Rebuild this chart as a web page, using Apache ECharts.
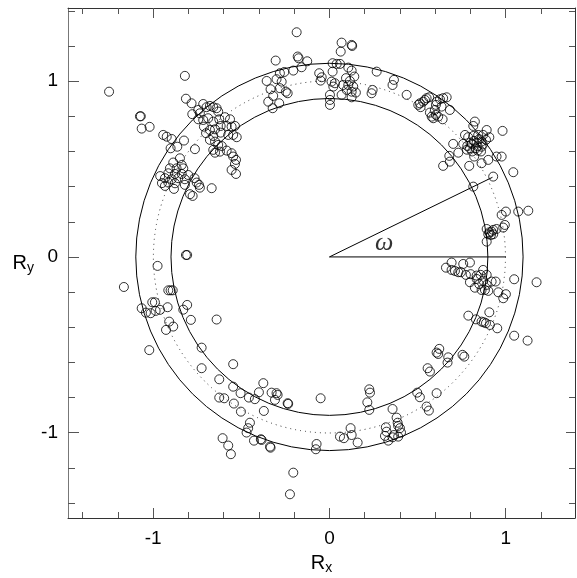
<!DOCTYPE html>
<html>
<head>
<meta charset="utf-8">
<script src="https://cdn.jsdelivr.net/npm/echarts@6/dist/echarts.min.js"></script>
<style>
  html, body { margin: 0; padding: 0; background: #fff; }
  #chart { width: 577px; height: 578px; }
</style>
</head>
<body>
<div id="chart"></div>
<script>
// axis ticks
const majorTicks = [-1, 0, 1]
const minorTicks = [-1.4, -1.2, -0.8, -0.6, -0.4, -0.2, 0.2, 0.4, 0.6, 0.8, 1.2, 1.4]
const xRange = [-1.483, 1.393]
const yRange = [-1.485, 1.416]

// reference rings, the two guide lines and the omega label
const ringRadii = [0.9, 1.0, 1.1]
const omegaLine = [[0, 0], [0.925, 0.453]]
const zeroLine = [[0, 0], [1.0, 0]]
const omegaLabel = [0.31, 0.08]

// measured points (Rx, Ry), grouped by region
const pointsNW = [
  [-1.25, 0.94], [-1.075, 0.80], [-1.07, 0.80], [-1.065, 0.73], [-1.02, 0.74], [-0.82, 1.03],
  [-0.814, 0.90], [-0.782, 0.874], [-0.778, 0.812], [-0.943, 0.694], [-0.923, 0.684], [-0.895, 0.671],
  [-0.825, 0.662], [-0.901, 0.618], [-0.863, 0.627], [-0.763, 0.613],
  [-0.744, 0.836], [-0.735, 0.817], [-0.716, 0.870], [-0.697, 0.852], [-0.678, 0.859], [-0.659, 0.852],
  [-0.640, 0.846], [-0.631, 0.827], [-0.744, 0.783], [-0.716, 0.779], [-0.688, 0.789], [-0.659, 0.770],
  [-0.625, 0.783], [-0.593, 0.795], [-0.564, 0.783], [-0.712, 0.741], [-0.678, 0.722], [-0.649, 0.726],
  [-0.617, 0.745], [-0.583, 0.745], [-0.555, 0.741], [-0.536, 0.745], [-0.700, 0.704], [-0.659, 0.688],
  [-0.617, 0.707], [-0.574, 0.694], [-0.546, 0.694], [-0.526, 0.681], [-0.678, 0.666], [-0.649, 0.656],
  [-0.631, 0.637], [-0.611, 0.631], [-0.659, 0.609], [-0.649, 0.593], [-0.621, 0.599], [-0.583, 0.605],
  [-0.555, 0.590], [-0.546, 0.571], [-0.530, 0.552], [-0.536, 0.529], [-0.555, 0.495], [-0.530, 0.472]
]
const pointsW = [
  [-0.848, 0.561], [-0.886, 0.537], [-0.838, 0.523], [-0.905, 0.504], [-0.867, 0.504], [-0.829, 0.504],
  [-0.914, 0.476], [-0.876, 0.472], [-0.838, 0.472], [-0.801, 0.466], [-0.933, 0.448], [-0.895, 0.442],
  [-0.858, 0.448], [-0.820, 0.442], [-0.914, 0.423], [-0.876, 0.419], [-0.753, 0.423], [-0.740, 0.410],
  [-0.765, 0.448], [-0.791, 0.357], [-0.776, 0.347], [-0.933, 0.404], [-0.882, 0.387], [-0.820, 0.410],
  [-0.735, 0.394], [-0.668, 0.391], [-0.96, 0.46], [-0.95, 0.42]
]
const pointsN = [
  [-0.186, 1.278], [-0.18, 1.14], [-0.175, 1.13], [-0.305, 1.117], [-0.126, 1.113], [-0.158, 1.079],
  [-0.205, 1.060], [-0.256, 1.052], [-0.281, 1.045], [-0.058, 1.045], [-0.044, 1.022], [-0.05, 1.003],
  [-0.30, 1.011], [-0.271, 0.997], [-0.356, 1.001], [-0.334, 0.954], [-0.281, 0.960], [-0.247, 0.940],
  [-0.237, 0.931], [-0.319, 0.916], [-0.347, 0.883], [-0.285, 0.874], [-0.322, 0.846],
  [0.069, 1.219], [0.126, 1.206], [0.129, 1.200], [0.064, 1.168], [0.018, 1.102], [0.041, 1.098],
  [0.060, 1.098], [0.107, 1.077], [0.126, 1.060], [0.018, 1.054], [0.012, 0.997], [0.031, 0.988],
  [0.022, 0.969], [0.094, 1.017], [0.116, 1.001], [0.141, 1.026], [0.078, 0.978], [0.107, 0.978],
  [0.135, 0.969], [0.098, 0.950], [0.126, 0.940], [0.150, 0.935], [0.069, 0.922], [0.126, 0.908],
  [0.003, 0.922], [0.003, 0.893], [0.003, 0.865], [0.268, 1.054], [0.366, 1.007], [0.358, 0.978],
  [0.245, 0.950], [0.239, 0.931], [0.438, 0.922]
]
const pointsNE = [
  [0.504, 0.865], [0.517, 0.852], [0.532, 0.883], [0.551, 0.903], [0.566, 0.908], [0.542, 0.893],
  [0.513, 0.874], [0.608, 0.883], [0.627, 0.897], [0.645, 0.903], [0.665, 0.908], [0.604, 0.865],
  [0.636, 0.855], [0.598, 0.836], [0.570, 0.821], [0.580, 0.798], [0.604, 0.808], [0.589, 0.789],
  [0.617, 0.798], [0.683, 0.836], [0.642, 0.783],
  [0.825, 0.770], [0.816, 0.745], [0.769, 0.694], [0.787, 0.681], [0.816, 0.688], [0.844, 0.694],
  [0.872, 0.694], [0.892, 0.722], [0.907, 0.681], [0.759, 0.643], [0.782, 0.631], [0.807, 0.643],
  [0.835, 0.650], [0.863, 0.656], [0.888, 0.666], [0.797, 0.618], [0.831, 0.618], [0.863, 0.627],
  [0.841, 0.605], [0.702, 0.643], [0.731, 0.593], [0.680, 0.575], [0.683, 0.542], [0.645, 0.518],
  [0.793, 0.518], [0.863, 0.533], [0.901, 0.552], [0.948, 0.571], [0.977, 0.571], [0.821, 0.571],
  [0.982, 0.717], [1.043, 0.482], [0.929, 0.457],
  [0.85, 0.67], [0.82, 0.66], [0.80, 0.65], [0.87, 0.64], [0.84, 0.63], [0.81, 0.60], [0.78, 0.61], [0.86, 0.60]
]
const pointsE = [
  [0.816, 0.400], [0.977, 0.239], [1.001, 0.258], [1.071, 0.258], [1.128, 0.263], [0.995, 0.182],
  [0.986, 0.167], [0.892, 0.159], [0.907, 0.140], [0.920, 0.144], [0.929, 0.154], [0.948, 0.159],
  [0.916, 0.125], [0.901, 0.129], [0.929, 0.129], [0.892, 0.087],
  [0.693, -0.032], [0.759, -0.040], [0.797, -0.032], [0.661, -0.061], [0.693, -0.074], [0.712, -0.080],
  [0.731, -0.087], [0.746, -0.087], [0.774, -0.102], [0.801, -0.098], [0.835, -0.106], [0.858, -0.102],
  [0.872, -0.074], [0.892, -0.102], [0.797, -0.144], [0.835, -0.125], [0.872, -0.135], [0.920, -0.140],
  [0.943, -0.140], [0.825, -0.175], [0.863, -0.188], [0.882, -0.188], [0.901, -0.193], [0.850, -0.155],
  [0.892, -0.159], [1.048, -0.127], [1.175, -0.144], [0.958, -0.201], [0.986, -0.235], [1.001, -0.212],
  [0.907, -0.315], [0.788, -0.334], [0.831, -0.355], [0.863, -0.368], [0.876, -0.372], [0.888, -0.377],
  [0.910, -0.387], [0.952, -0.406], [1.048, -0.448], [1.124, -0.476], [0.623, -0.523]
]
const pointsSE = [
  [0.608, -0.544], [0.617, -0.552], [0.674, -0.571], [0.670, -0.601], [0.755, -0.557], [0.765, -0.567],
  [0.557, -0.633], [0.570, -0.652], [0.226, -0.753], [0.230, -0.772], [0.215, -0.827], [0.226, -0.870],
  [0.498, -0.772], [0.513, -0.798], [0.608, -0.775], [0.358, -0.865], [0.551, -0.851], [0.564, -0.874],
  [0.381, -0.914], [0.387, -0.943], [0.390, -0.961], [0.400, -0.974], [0.406, -0.999], [0.390, -1.022],
  [0.320, -0.969], [0.324, -0.994], [0.315, -1.018], [0.334, -1.045], [0.358, -1.026], [0.366, -1.013],
  [0.120, -0.974], [0.126, -1.013], [0.082, -1.031], [0.060, -1.022], [0.160, -1.056]
]
const pointsSW = [
  [-0.814, 0.011], [-0.807, 0.011], [-0.975, -0.051], [-1.166, -0.171], [-0.914, -0.190], [-0.901, -0.190],
  [-0.889, -0.190], [-1.005, -0.258], [-0.990, -0.258], [-1.065, -0.292], [-1.041, -0.317], [-1.014, -0.320],
  [-0.986, -0.307], [-0.961, -0.301], [-0.918, -0.286], [-0.807, -0.273], [-0.829, -0.300], [-0.909, -0.368],
  [-0.886, -0.396], [-0.927, -0.415], [-0.786, -0.358], [-0.640, -0.356], [-1.022, -0.530], [-0.725, -0.516],
  [-0.725, -0.633], [-0.546, -0.610], [-0.625, -0.696], [-0.546, -0.738], [-0.625, -0.800], [-0.597, -0.804],
  [-0.504, -0.775], [-0.457, -0.800], [-0.423, -0.809], [-0.400, -0.770], [-0.375, -0.718], [-0.542, -0.834],
  [-0.502, -0.880], [-0.372, -0.876], [-0.328, -0.772], [-0.300, -0.775], [-0.294, -0.785], [-0.309, -0.813],
  [-0.237, -0.832], [-0.234, -0.836], [-0.050, -0.804], [-0.451, -0.943], [-0.461, -0.974], [-0.470, -0.999],
  [-0.428, -1.045], [-0.389, -1.037], [-0.385, -1.041], [-0.337, -1.079], [-0.334, -1.085], [-0.606, -1.031],
  [-0.574, -1.073], [-0.559, -1.122], [-0.205, -1.227], [-0.224, -1.350], [-0.073, -1.064], [-0.077, -1.094]
]

const allPoints = [].concat(pointsNW, pointsW, pointsN, pointsNE, pointsE, pointsSE, pointsSW)

const font = 'Liberation Sans'

// one axis per tick set, so major and minor ticks can have different lengths
function makeAxis(dim, position, ticks, len, opts) {
  const range = dim === 'x' ? xRange : yRange
  const ax = {
    type: 'value',
    position: position,
    min: range[0],
    max: range[1],
    splitLine: { show: false },
    axisLine: { show: !!opts.line, onZero: false, lineStyle: { color: opts.lineColor || '#333', width: 1 } },
    axisTick: { show: true, inside: true, length: len, customValues: ticks, lineStyle: { color: '#555', width: 1 } },
    axisLabel: { show: false }
  }
  if (opts.labels) {
    ax.axisLabel = {
      show: true,
      customValues: majorTicks,
      formatter: v => String(Math.round(v)),
      fontFamily: font,
      fontSize: 19,
      color: '#000',
      margin: dim === 'x' ? 11 : 10
    }
  }
  if (opts.name) {
    ax.name = opts.name
    ax.nameLocation = 'middle'
    ax.nameGap = opts.nameGap
    ax.nameRotate = 0
    ax.nameTextStyle = {
      fontFamily: font,
      color: '#000',
      rich: {
        r: { fontFamily: font, fontSize: 20, color: '#000' },
        s: { fontFamily: font, fontSize: 14, color: '#000', padding: [10, 0, 0, 0] }
      }
    }
  }
  return ax
}

const chart = echarts.init(document.getElementById('chart'))

chart.setOption({
  animation: false,
  backgroundColor: '#fff',
  grid: { left: 68, right: 2, top: 8, bottom: 60, outerBoundsMode: 'none', containLabel: false },
  xAxis: [
    makeAxis('x', 'bottom', majorTicks, 10, { line: true, labels: true, name: '{r|R}{s|x}', nameGap: 33 }),
    makeAxis('x', 'bottom', minorTicks, 6, {}),
    makeAxis('x', 'top', majorTicks, 10, { line: true }),
    makeAxis('x', 'top', minorTicks, 6, {})
  ],
  yAxis: [
    makeAxis('y', 'left', majorTicks, 11, { line: true, lineColor: '#777', labels: true, name: '{r|R}{s|y}', nameGap: 34 }),
    makeAxis('y', 'left', minorTicks, 7, {}),
    makeAxis('y', 'right', majorTicks, 9, { line: true }),
    makeAxis('y', 'right', minorTicks, 6, {})
  ],
  series: [
    {
      type: 'custom',
      data: ringRadii.map(r => [0, 0, r]),
      encode: { x: 0, y: 1 },
      silent: true,
      renderItem: function (params, api) {
        const c = api.coord([api.value(0), api.value(1)])
        const r = api.value(2)
        const rx = api.size([r, 0])[0]
        const ry = api.size([0, r])[1]
        const dotted = params.dataIndex === 1
        return {
          type: 'circle',
          shape: { cx: c[0], cy: c[1], r: (rx + ry) / 2 },
          style: {
            fill: 'none',
            stroke: dotted ? '#333' : '#000',
            lineWidth: 1,
            lineDash: dotted ? [1, 4] : null
          }
        }
      }
    },
    {
      type: 'line',
      data: zeroLine,
      symbol: 'none',
      silent: true,
      lineStyle: { color: '#000', width: 1 }
    },
    {
      type: 'line',
      data: omegaLine,
      symbol: 'none',
      silent: true,
      lineStyle: { color: '#000', width: 1 }
    },
    {
      type: 'scatter',
      data: allPoints,
      symbol: 'circle',
      symbolSize: 9,
      itemStyle: { color: 'rgba(0,0,0,0)', borderColor: '#000', borderWidth: 1 }
    },
    {
      type: 'scatter',
      data: [omegaLabel],
      symbolSize: 0,
      label: {
        show: true,
        position: 'inside',
        formatter: 'ω',
        fontFamily: 'Liberation Serif',
        fontStyle: 'italic',
        fontSize: 26,
        color: '#000'
      }
    }
  ]
})
</script>
</body>
</html>
